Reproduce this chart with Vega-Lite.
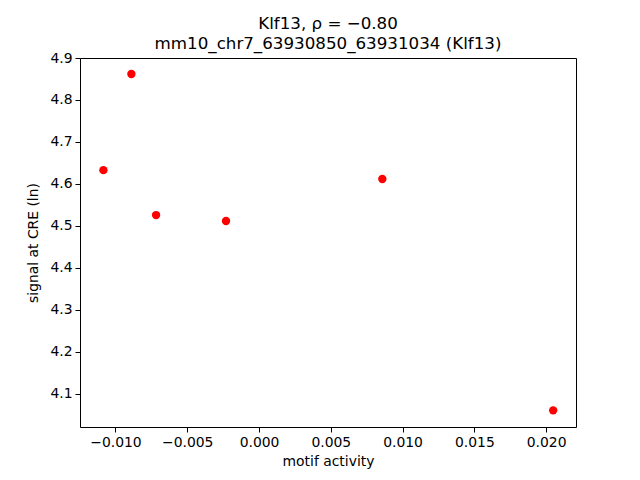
{
  "$schema": "https://vega.github.io/schema/vega-lite/v6.json",
  "width": 496,
  "height": 369,
  "autosize": {"type": "none"},
  "padding": {"left": 80, "top": 58, "right": 64, "bottom": 53},
  "background": "white",
  "title": {
    "text": ["Klf13, ρ = −0.80", "mm10_chr7_63930850_63931034 (Klf13)"],
    "font": "DejaVu Sans",
    "fontSize": 16.7,
    "fontWeight": "normal",
    "color": "black",
    "anchor": "middle",
    "lineHeight": 20,
    "offset": -2
  },
  "config": {
    "view": {"stroke": "black", "strokeWidth": 1},
    "axis": {
      "labelFont": "DejaVu Sans",
      "titleFont": "DejaVu Sans",
      "labelFontSize": 13.9,
      "titleFontSize": 13.9,
      "labelColor": "black",
      "titleColor": "black",
      "titleFontWeight": "normal",
      "grid": false,
      "domain": false,
      "tickColor": "black",
      "tickSize": 5,
      "tickWidth": 1,
      "labelPadding": 3
    }
  },
  "data": {
    "values": [
      {"motif_activity": -0.01084, "signal": 4.633},
      {"motif_activity": -0.00889, "signal": 4.862},
      {"motif_activity": -0.00717, "signal": 4.526},
      {"motif_activity": -0.00230, "signal": 4.512},
      {"motif_activity": 0.00859, "signal": 4.612},
      {"motif_activity": 0.02049, "signal": 4.061}
    ]
  },
  "mark": {"type": "point", "filled": true, "shape": "circle", "size": 70, "color": "#ff0000", "opacity": 1},
  "encoding": {
    "x": {
      "field": "motif_activity",
      "type": "quantitative",
      "scale": {"domain": [-0.01247, 0.02208], "nice": false, "zero": false},
      "axis": {"title": "motif activity", "values": [-0.01, -0.005, 0, 0.005, 0.01, 0.015, 0.02], "format": ".3f", "titlePadding": 6}
    },
    "y": {
      "field": "signal",
      "type": "quantitative",
      "scale": {"domain": [4.0214, 4.9], "nice": false, "zero": false},
      "axis": {"title": "signal at CRE (ln)", "values": [4.1, 4.2, 4.3, 4.4, 4.5, 4.6, 4.7, 4.8, 4.9], "format": ".1f", "titlePadding": 9}
    }
  }
}
